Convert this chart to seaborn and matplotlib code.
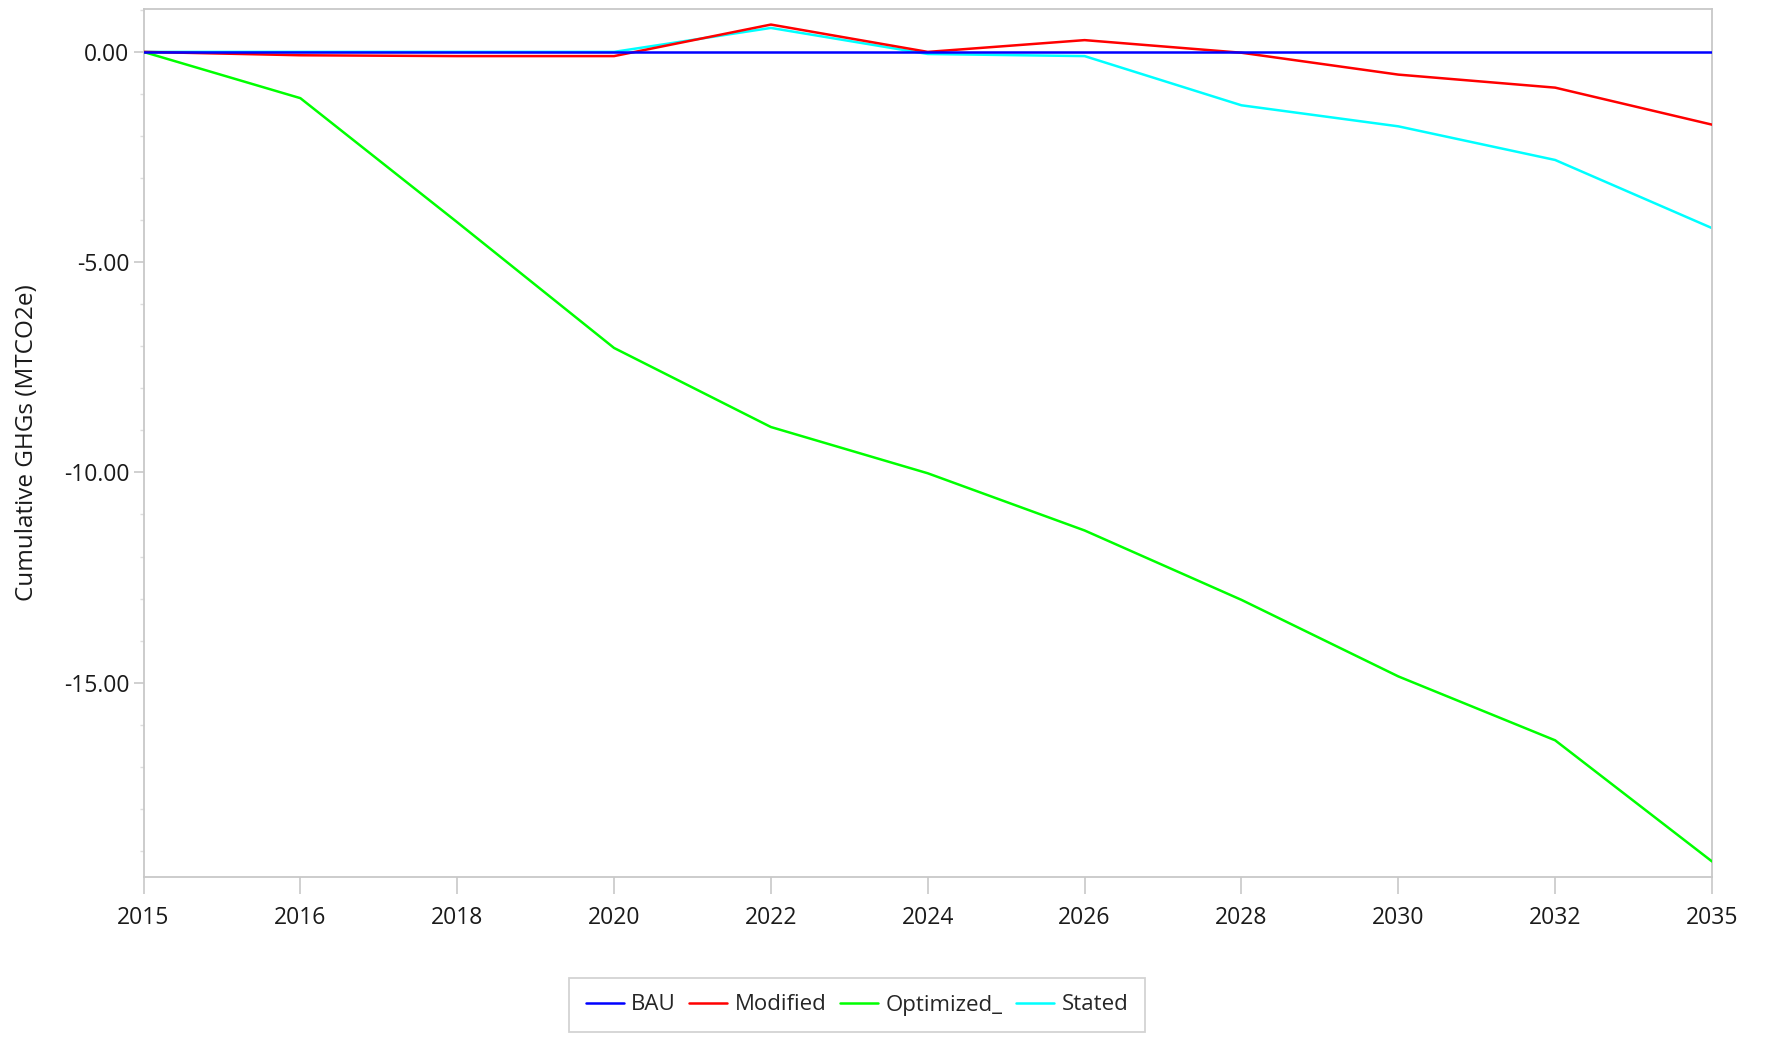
import matplotlib
matplotlib.use("Agg")
import matplotlib.pyplot as plt
from matplotlib.ticker import MultipleLocator, FormatStrFormatter
import seaborn as sns
import pandas as pd

years = ['2015', '2016', '2018', '2020', '2022', '2024', '2026', '2028', '2030', '2032', '2035']
bau = [0, 0, 0, 0, 0, 0, 0, 0, 0, 0, 0]
modified = [0, -0.08, -0.1, -0.1, 0.65, 0.0, 0.28, -0.02, -0.54, -0.85, -1.73]
optimized = [0, -1.1, -4.05, -7.04, -8.92, -10.02, -11.38, -13.03, -14.85, -16.37, -19.25]
stated = [0, 0, 0, 0, 0.57, -0.05, -0.1, -1.27, -1.77, -2.57, -4.19]

series_names = ['BAU', 'Modified', 'Optimized_', 'Stated']
series_values = [bau, modified, optimized, stated]
colors = {'BAU': '#0000ff', 'Modified': '#ff0000', 'Optimized_': '#00ff00', 'Stated': '#00ffff'}
zorders = {'BAU': 5, 'Modified': 4, 'Optimized_': 3, 'Stated': 2}

df = pd.concat([pd.DataFrame({'Year': years, 'Value': v, 'Series': n})
                for n, v in zip(series_names, series_values)], ignore_index=True)

sns.set_theme(style="white")
plt.rcParams['font.family'] = ['Open Sans', 'DejaVu Sans']
plt.rcParams['axes.unicode_minus'] = False

fig = plt.figure(figsize=(17.72, 10.40), dpi=100)
ax = fig.add_axes([143.5 / 1772, 1 - 877 / 1040, (1712 - 143.5) / 1772, (877 - 9) / 1040])

for n in ['Stated', 'Optimized_', 'Modified', 'BAU']:
    sub = df[df['Series'] == n]
    sns.lineplot(data=sub, x='Year', y='Value', color=colors[n], linewidth=1.8,
                 ax=ax, label=n, zorder=zorders[n], sort=False)

ax.set_xlim(0, len(years) - 1)
ax.set_ylim(-19.62, 1.02)
ax.yaxis.set_major_locator(MultipleLocator(5))
ax.yaxis.set_minor_locator(MultipleLocator(1))
ax.yaxis.set_major_formatter(FormatStrFormatter('%.2f'))

grey = '#c8c8c8'
for s in ax.spines.values():
    s.set_color(grey)
    s.set_linewidth(1.3)
ax.tick_params(axis='x', which='major', bottom=True, length=12, width=1.2, color=grey,
               labelsize=16.5, labelcolor='#1a1a1a', pad=9, direction='out')
ax.tick_params(axis='y', which='major', left=True, length=7, width=1.2, color=grey,
               labelsize=16.5, labelcolor='#1a1a1a', pad=3, direction='out')
ax.tick_params(axis='y', which='minor', left=True, length=3, width=1.0, color='#dddddd',
               direction='out')
ax.set_xlabel('')
ax.set_ylabel('Cumulative GHGs (MTCO2e)', fontsize=17.5, color='#1a1a1a', labelpad=18)

h, l = ax.get_legend_handles_labels()
hd = dict(zip(l, h))
if ax.legend_:
    ax.legend_.remove()
leg = fig.legend([hd[n] for n in series_names], series_names, loc='center',
                 bbox_to_anchor=(857 / 1772, 1 - 1005 / 1040), ncol=4, frameon=True,
                 fontsize=16, handlelength=1.7, handletextpad=0.35, columnspacing=0.6,
                 borderpad=0.75, borderaxespad=0, fancybox=False, edgecolor=grey)
leg.get_frame().set_linewidth(1.3)

fig.savefig('out.png', dpi=100)
